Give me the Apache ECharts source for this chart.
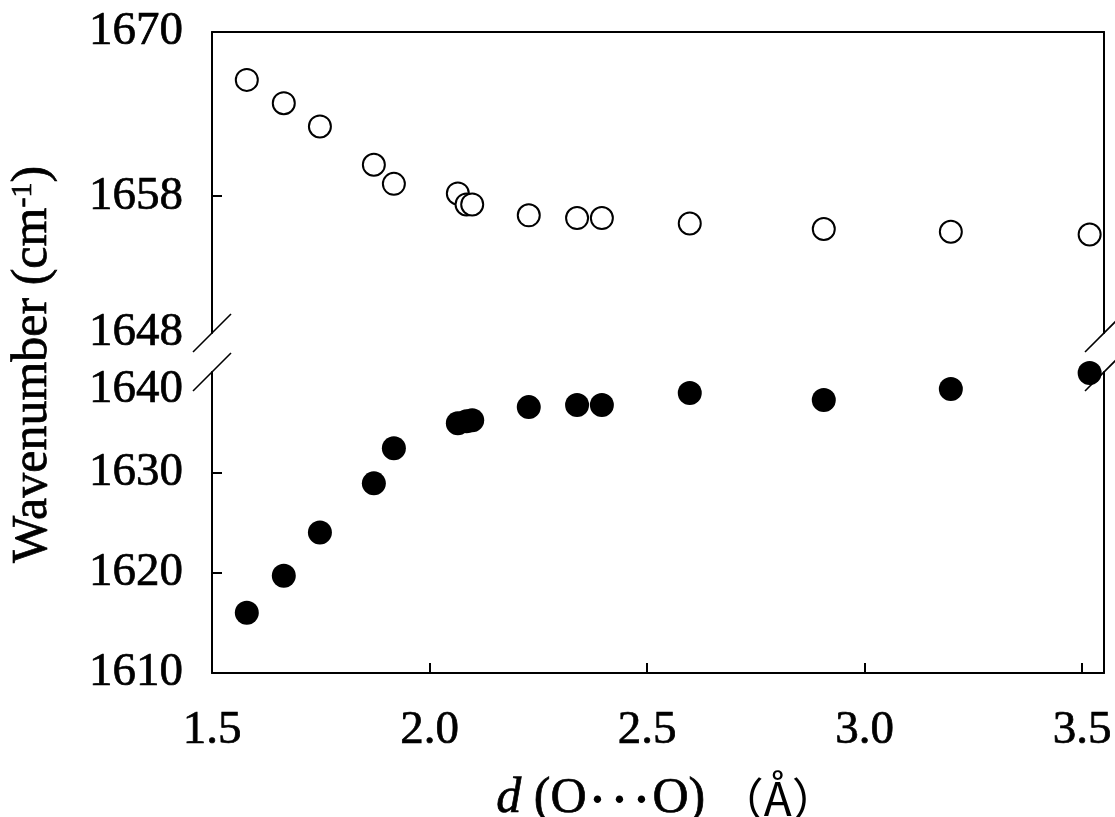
<!DOCTYPE html>
<html>
<head>
<meta charset="utf-8">
<script src="https://cdn.jsdelivr.net/npm/echarts@6/dist/echarts.min.js"></script>
<style>
  html, body { margin: 0; padding: 0; background: #fff; }
  #chart { width: 1115px; height: 817px; }
</style>
</head>
<body>
<div id="chart"></div>
<script>
// O···O distance (Å), shared by both bands
const distance = [1.58, 1.665, 1.748, 1.872, 1.918, 2.065, 2.085, 2.098, 2.228, 2.339, 2.396, 2.598, 2.906, 3.198, 3.517];
// upper band (open circles), cm-1
const upperWavenumber = [1666.5, 1664.8, 1663.1, 1660.3, 1658.9, 1658.2, 1657.4, 1657.4, 1656.6, 1656.4, 1656.4, 1656.0, 1655.6, 1655.4, 1655.2];
// lower band (filled circles), cm-1
const lowerWavenumber = [1616.0, 1619.7, 1624.0, 1628.9, 1632.4, 1634.9, 1635.1, 1635.2, 1636.5, 1636.7, 1636.7, 1637.9, 1637.2, 1638.3, 1639.9];

// axis ranges and tick labels
const xRange = [1.5, 3.55];
const xTicks = [1.5, 2.0, 2.5, 3.0, 3.5];
const upperRange = [1648, 1670];
const upperTickLabels = [1648, 1658, 1670];
const upperTickMarks = [1658];
const lowerRange = [1610, 1640];
const lowerTickLabels = [1610, 1620, 1630, 1640];
const lowerTickMarks = [1620, 1630];

const SERIF = 'Liberation Serif';
const CJK = 'Noto Sans CJK JP';
const INK = '#000';

// plot frame (two stacked panels with a broken y axis)
const PLOT_LEFT = 212, PLOT_RIGHT = 1104;
const UPPER_TOP = 32, UPPER_BOTTOM = 333;
const LOWER_TOP = 372, LOWER_BOTTOM = 673;

const lineStyle = { color: INK, width: 2 };
// a thin outline of the same ink gives the serif text a slightly heavier weight
const heavy = { textBorderColor: INK, textBorderWidth: 0.7 };
const tickLabelStyle = Object.assign({ color: INK, fontFamily: SERIF, fontSize: 47 }, heavy);
const plainNumber = v => String(v);

function frameAxis(extra) {
  return Object.assign({
    type: 'value',
    axisLine: { show: true, onZero: false, lineStyle: lineStyle },
    axisTick: { show: false },
    axisLabel: { show: false },
    splitLine: { show: false }
  }, extra);
}

function hiddenAxis(extra) {
  return Object.assign({
    type: 'value', min: 0, max: 1,
    axisLine: { show: false }, axisTick: { show: false },
    axisLabel: { show: false }, splitLine: { show: false }
  }, extra);
}

// break marks: short slashes across each vertical frame line
function slash(cx, cy) {
  return {
    type: 'line',
    silent: true,
    z: 100,
    shape: { x1: cx - 19, y1: cy + 19, x2: cx + 19, y2: cy - 19 },
    style: { stroke: INK, lineWidth: 1.6 }
  };
}

const gridBase = { left: PLOT_LEFT, width: PLOT_RIGHT - PLOT_LEFT, outerBoundsMode: 'none', containLabel: false };

const chart = echarts.init(document.getElementById('chart'), null, { renderer: 'canvas' });

chart.setOption({
  animation: false,
  backgroundColor: '#fff',
  grid: [
    Object.assign({ top: UPPER_TOP, height: UPPER_BOTTOM - UPPER_TOP }, gridBase),
    Object.assign({ top: LOWER_TOP, height: LOWER_BOTTOM - LOWER_TOP }, gridBase),
    // spans both panels; carries the shared y-axis title
    Object.assign({ top: UPPER_TOP, height: LOWER_BOTTOM - UPPER_TOP }, gridBase)
  ],
  xAxis: [
    frameAxis({ gridIndex: 0, position: 'top', min: xRange[0], max: xRange[1] }),
    frameAxis({
      gridIndex: 1, position: 'bottom', min: xRange[0], max: xRange[1],
      axisTick: { show: true, inside: true, length: 10, lineStyle: lineStyle, customValues: xTicks },
      axisLabel: Object.assign({ show: true, margin: 34, lineHeight: 47, customValues: xTicks,
        formatter: v => v.toFixed(1) }, tickLabelStyle),
      name: '{i|d}{r| (O}{c|･･･}{r|O) }{j|（Å）}',
      nameLocation: 'middle',
      nameGap: 101,
      nameTextStyle: {
        padding: [0, 0, 0, 18],
        rich: {
          i: Object.assign({ fontFamily: SERIF, fontStyle: 'italic', fontSize: 50, lineHeight: 50, color: INK }, heavy),
          r: Object.assign({ fontFamily: SERIF, fontSize: 50, lineHeight: 50, color: INK }, heavy),
          c: { fontFamily: CJK, fontSize: 44, lineHeight: 50, color: INK },
          j: { fontFamily: CJK, fontSize: 46, lineHeight: 50, color: INK }
        }
      }
    }),
    hiddenAxis({ gridIndex: 2, show: false })
  ],
  yAxis: [
    frameAxis({
      gridIndex: 0, position: 'left', min: upperRange[0], max: upperRange[1],
      axisTick: { show: true, inside: true, length: 10, lineStyle: lineStyle, customValues: upperTickMarks },
      axisLabel: Object.assign({ show: true, margin: 29, customValues: upperTickLabels,
        formatter: plainNumber }, tickLabelStyle)
    }),
    frameAxis({ gridIndex: 0, position: 'right', min: upperRange[0], max: upperRange[1] }),
    frameAxis({
      gridIndex: 1, position: 'left', min: lowerRange[0], max: lowerRange[1], interval: 10,
      axisTick: { show: true, inside: true, length: 10, lineStyle: lineStyle, customValues: lowerTickMarks },
      axisLabel: Object.assign({ show: true, margin: 29, lineHeight: 36, customValues: lowerTickLabels,
        verticalAlignMaxLabel: 'top', formatter: plainNumber }, tickLabelStyle)
    }),
    frameAxis({ gridIndex: 1, position: 'right', min: lowerRange[0], max: lowerRange[1] }),
    hiddenAxis({
      gridIndex: 2, position: 'left',
      name: '{t|Wavenumber (cm}{s|-1}{t|)}',
      nameLocation: 'middle',
      nameRotate: 90,
      nameGap: 154,
      nameTextStyle: {
        padding: [0, 24, 0, 0],
        rich: {
          t: Object.assign({ fontFamily: SERIF, fontSize: 50, lineHeight: 50, color: INK }, heavy),
          s: Object.assign({ fontFamily: SERIF, fontSize: 30, lineHeight: 30, verticalAlign: 'top', color: INK }, heavy)
        }
      }
    })
  ],
  series: [
    {
      name: 'upper',
      type: 'scatter',
      xAxisIndex: 0,
      yAxisIndex: 0,
      symbol: 'circle',
      symbolSize: 22,
      itemStyle: { color: '#fff', borderColor: INK, borderWidth: 2, opacity: 1 },
      data: distance.map((d, i) => [d, upperWavenumber[i]])
    },
    {
      name: 'lower',
      type: 'scatter',
      xAxisIndex: 1,
      yAxisIndex: 2,
      symbol: 'circle',
      symbolSize: 24,
      itemStyle: { color: INK, opacity: 1 },
      data: distance.map((d, i) => [d, lowerWavenumber[i]])
    }
  ],
  graphic: [
    slash(PLOT_LEFT, UPPER_BOTTOM),
    slash(PLOT_LEFT, LOWER_TOP),
    slash(PLOT_RIGHT, UPPER_BOTTOM),
    slash(PLOT_RIGHT, LOWER_TOP)
  ]
});
</script>
</body>
</html>
